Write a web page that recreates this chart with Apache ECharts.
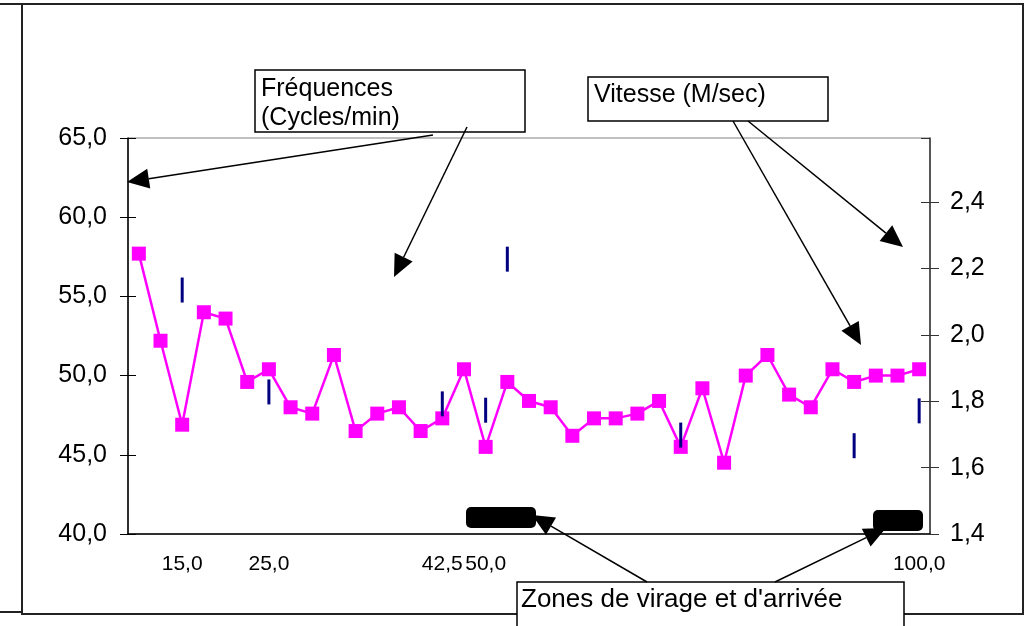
<!DOCTYPE html>
<html>
<head>
<meta charset="utf-8">
<script src="https://cdn.jsdelivr.net/npm/echarts@6/dist/echarts.min.js"></script>
<style>
html,body{margin:0;padding:0;background:#fff;}
#chart{width:1034px;height:626px;}
</style>
</head>
<body>
<div id="chart"></div>
<script>
// Category labels (distance marks); blanks are unlabeled categories
var categories = ['', '', '15,0', '', '', '', '25,0', '', '', '', '', '', '', '', '42,5', '', '50,0', '', '', '', '', '', '', '', '', '', '', '', '', '', '', '', '', '', '', '', '100,0'];
// Fréquences (Cycles/min)
var frequences = [57.7, 52.2, 46.9, 54.0, 53.6, 49.6, 50.4, 48.0, 47.6, 51.3, 46.5, 47.6, 48.0, 46.5, 47.3, 50.4, 45.5, 49.6, 48.4, 48.0, 46.2, 47.3, 47.3, 47.6, 48.4, 45.5, 49.2, 44.5, 50.0, 51.3, 48.8, 48.0, 50.4, 49.6, 50.0, 50.0, 50.4];
// Vitesse (M/sec)
var vitesse = ['-', '-', 2.135, '-', '-', '-', 1.828, '-', '-', '-', '-', '-', '-', '-', 1.792, '-', 1.773, 2.228, '-', '-', '-', '-', '-', '-', '-', 1.698, '-', '-', '-', '-', '-', '-', '-', 1.666, '-', '-', 1.771];
var leftTicks = [40, 65, 5];
var rightTicks = [1.4, 2.593, 0.2];

function fmt(v){ return v.toFixed(1).replace('.', ','); }

var chart = echarts.init(document.getElementById('chart'));

function arrow(x1, y1, x2, y2){
  var dx = x2 - x1, dy = y2 - y1, L = Math.sqrt(dx*dx + dy*dy);
  var ux = dx / L, uy = dy / L, hl = 22, hw = 10;
  var bx = x2 - ux*hl, by = y2 - uy*hl;
  return [
    {type:'line', shape:{x1:x1, y1:y1, x2:bx, y2:by}, style:{stroke:'#000', lineWidth:1.5}, z:100},
    {type:'polygon', shape:{points:[[x2,y2],[bx - uy*hw, by + ux*hw],[bx + uy*hw, by - ux*hw]]}, style:{fill:'#000'}, z:100}
  ];
}

var textStyle = {fill:'#000', fontFamily:'Liberation Sans, Arial, sans-serif', fontSize:25};
var graphics = [
  {type:'rect', shape:{x:22, y:4, width:1001, height:610}, style:{fill:null, stroke:'#222', lineWidth:2}, z:-10},
  {type:'line', shape:{x1:0, y1:4, x2:22, y2:4}, style:{stroke:'#222', lineWidth:2}},
  {type:'line', shape:{x1:0, y1:612, x2:22, y2:612}, style:{stroke:'#222', lineWidth:2}},
  // black zone markers
  {type:'rect', shape:{x:466, y:507, width:70, height:21, r:5}, style:{fill:'#000'}, z:90},
  {type:'rect', shape:{x:873, y:510, width:50, height:21, r:5}, style:{fill:'#000'}, z:90},
  // annotation boxes
  {type:'rect', shape:{x:255, y:70, width:270, height:62}, style:{fill:'#fff', stroke:'#000', lineWidth:1.5}, z:95},
  {type:'text', x:261, y:75, style:Object.assign({text:'Fréquences\n(Cycles/min)', lineHeight:29}, textStyle), z:96},
  {type:'rect', shape:{x:588, y:77, width:240, height:44}, style:{fill:'#fff', stroke:'#000', lineWidth:1.5}, z:95},
  {type:'text', x:594, y:83, style:Object.assign({text:'Vitesse (M/sec)'}, textStyle), z:96},
  {type:'rect', shape:{x:517, y:582, width:387, height:60}, style:{fill:'#fff', stroke:'#000', lineWidth:1.5}, z:95},
  {type:'text', x:521, y:587, style:Object.assign({text:"Zones de virage et d'arrivée"}, textStyle, {fontSize:26}), z:96}
];
graphics = graphics.concat(arrow(433,135,127,182), arrow(467,127,394,277),
  arrow(733,121,861,345), arrow(748,121,903,247),
  arrow(647,582,532,515), arrow(775,582,886,528));

var axisLabelFont = {color:'#000', fontFamily:'Liberation Sans, Arial, sans-serif'};

var option = {
  animation:false,
  backgroundColor:'#fff',
  grid:{left:128, right:104, top:138, bottom:92, show:true, borderColor:'#808080', borderWidth:1},
  xAxis:[
    {type:'category', data:categories, position:'bottom', boundaryGap:true,
     axisLine:{lineStyle:{color:'#000', width:1.5}},
     axisTick:{interval:3, length:7, lineStyle:{color:'#000'}},
     axisLabel:Object.assign({interval:0, fontSize:21, margin:20, hideOverlap:false}, axisLabelFont)},
    {type:'category', data:categories, position:'bottom', boundaryGap:true,
     axisLine:{show:false}, axisTick:{inside:true, interval:3, length:7, lineStyle:{color:'#000'}},
     axisLabel:{show:false}}
  ],
  yAxis:[
    {type:'value', position:'left', min:leftTicks[0], max:leftTicks[1], interval:leftTicks[2],
     splitLine:{show:false}, axisLine:{show:true, lineStyle:{color:'#000', width:1.5}},
     axisTick:{show:true, length:8, lineStyle:{color:'#000'}},
     axisLabel:Object.assign({fontSize:25, margin:21, formatter:fmt}, axisLabelFont)},
    {type:'value', position:'right', min:rightTicks[0], max:rightTicks[1], interval:rightTicks[2],
     splitLine:{show:false}, axisLine:{show:true, lineStyle:{color:'#333', width:1.5}},
     axisTick:{show:true, length:9, lineStyle:{color:'#333'}},
     axisLabel:Object.assign({fontSize:25, margin:20, showMaxLabel:false, formatter:function(v){ return Math.abs(Math.round(v*5)-v*5) < 1e-6 ? fmt(v) : ''; }}, axisLabelFont)},
    {type:'value', position:'left', min:leftTicks[0], max:leftTicks[1], interval:leftTicks[2],
     splitLine:{show:false}, axisLine:{show:false},
     axisTick:{show:true, inside:true, length:8, lineStyle:{color:'#000'}}, axisLabel:{show:false}},
    {type:'value', position:'right', min:rightTicks[0], max:rightTicks[1], interval:rightTicks[2],
     splitLine:{show:false}, axisLine:{show:false},
     axisTick:{show:true, inside:true, length:9, lineStyle:{color:'#333'}}, axisLabel:{show:false}}
  ],
  series:[
    {type:'line', name:'Fréquences', data:frequences, xAxisIndex:0, yAxisIndex:0,
     symbol:'rect', symbolSize:14, showSymbol:true,
     lineStyle:{color:'#FF00FF', width:2.5}, itemStyle:{color:'#FF00FF', opacity:1}, z:5},
    {type:'scatter', name:'Vitesse', data:vitesse, xAxisIndex:0, yAxisIndex:1,
     symbol:'rect', symbolSize:[3, 25], itemStyle:{color:'#000080', opacity:1}, z:6}
  ],
  graphic:graphics
};
chart.setOption(option);
</script>
</body>
</html>
